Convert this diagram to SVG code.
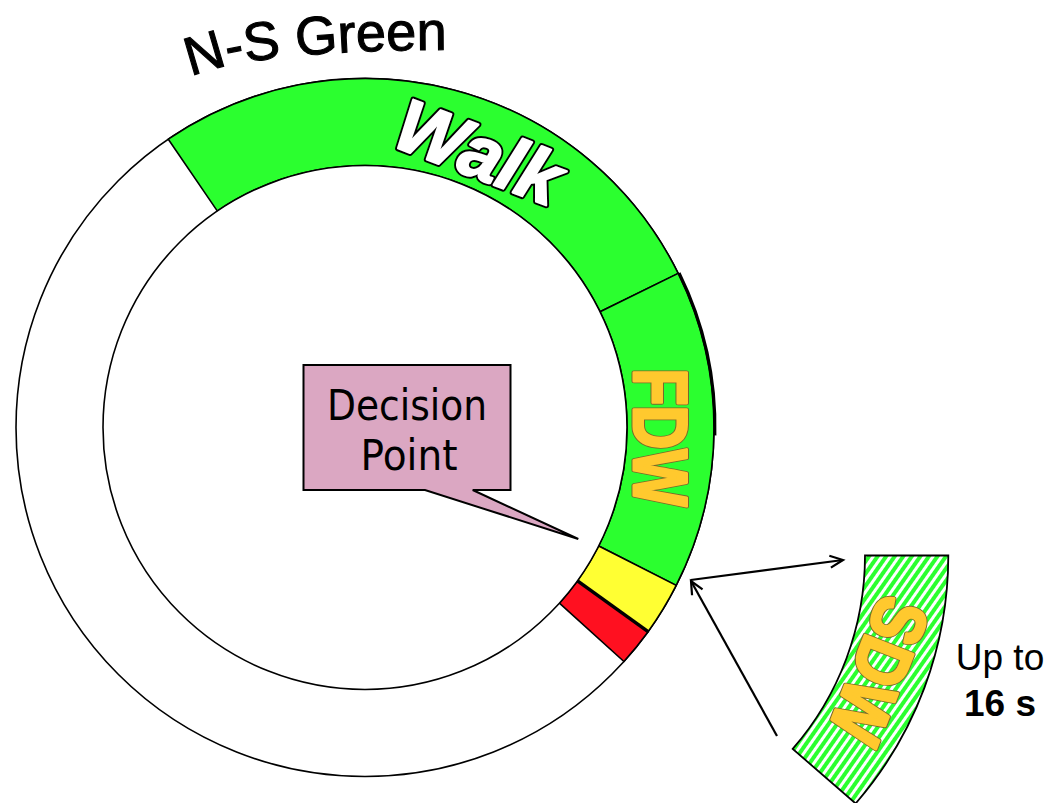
<svg xmlns="http://www.w3.org/2000/svg" width="1061" height="803" viewBox="0 0 1061 803">
  <style>
    .seg { stroke: #000; stroke-width: 1.6; stroke-linejoin: round; }
    .ring { fill: #fff; stroke: #000; stroke-width: 1.6; }
    .green { fill: #2BFF2F; }
    .sans { font-family: "Liberation Sans", Arial, Helvetica, sans-serif; }
    .tahoma { font-family: "DejaVu Sans", Verdana, sans-serif; }
    .lblB { font-family: "Liberation Sans", Arial, Helvetica, sans-serif; font-weight: bold; }
    .outl { fill: none; stroke: #7A6A2A; stroke-width: 5; stroke-linejoin: round; }
    .body { fill: #FFC92E; stroke: #FFC92E; stroke-width: 3; stroke-linejoin: round; }
    .wOut { fill: none; stroke: #000; stroke-width: 6; stroke-linejoin: round; }
    .wBody { fill: #fff; stroke: #fff; stroke-width: 2.2; stroke-linejoin: round; }
    .conn { stroke: #000; stroke-width: 2.2; fill: none; marker-end: url(#ah); }
  </style>
  <defs>
    <marker id="ah" markerWidth="18" markerHeight="16" refX="15" refY="8" orient="auto" markerUnits="userSpaceOnUse">
      <path d="M2,2 L15,8 L2,14" fill="none" stroke="#000" stroke-width="2.2"/>
    </marker>
    <pattern id="stripes" width="7" height="7" patternUnits="userSpaceOnUse" patternTransform="rotate(35)">
      <rect x="0" y="0" width="7" height="7" fill="#fff"/>
      <rect x="0" y="0" width="4" height="7" fill="#2BFF2F"/>
    </pattern>
    <path id="nsArc" d="M 191,77 C 245,52 400,49 470,50"/>
    <text id="walkT" class="lblB" transform="translate(470,176) rotate(21)" text-anchor="middle" font-style="italic" font-size="74">Walk</text>
    <text id="fdwT" class="lblB" transform="translate(633.5,437.5) rotate(90)" text-anchor="middle" font-size="76" textLength="138" lengthAdjust="spacingAndGlyphs">FDW</text>
    <text id="sdwT" class="lblB" transform="translate(855,661) rotate(111.5)" text-anchor="middle" font-size="75" textLength="149" lengthAdjust="spacingAndGlyphs">SDW</text>
  </defs>

  <g id="ring">
    <circle class="ring" cx="365" cy="427.5" r="349"/>
    <path id="walk-seg" class="seg green" d="M 168.3,139.2 A 349 349 0 0 1 678.2,273.4 L 600.1,311.8 A 262 262 0 0 0 217.4,211.1 Z"/>
    <path id="fdw-seg" class="seg green" d="M 678.2,273.4 A 349 349 0 0 1 676.2,585.4 L 598.7,546.0 A 262 262 0 0 0 600.1,311.8 Z"/>
    <path id="yellow-seg" class="seg" fill="#FFFF33" d="M 676.2,585.4 A 349 349 0 0 1 648.1,631.7 L 577.5,580.8 A 262 262 0 0 0 598.7,546.0 Z"/>
    <path id="red-seg" class="seg" fill="#FF1020" d="M 648.1,631.7 A 349 349 0 0 1 623.9,661.5 L 559.4,603.1 A 262 262 0 0 0 577.5,580.8 Z"/>
    <line x1="648.1" y1="631.7" x2="577.5" y2="580.8" stroke="#000" stroke-width="3.5"/>
    <path d="M 679.1,273 A 350 350 0 0 1 714.9,435.4" fill="none" stroke="#000" stroke-width="3"/>
    <circle class="ring" cx="365" cy="427.5" r="262"/>
  </g>

  <g id="title">
    <text class="sans" font-size="54" fill="#000" stroke="#000" stroke-width="1.1"><textPath href="#nsArc" startOffset="0">N-S Green</textPath></text>
  </g>

  <g id="walk-label">
    <use href="#walkT" class="wOut"/>
    <use href="#walkT" class="wBody"/>
  </g>

  <g id="fdw-label">
    <use href="#fdwT" class="outl"/>
    <use href="#fdwT" class="body"/>
  </g>

  <g id="decision-point">
    <path d="M303.5,365 H510.5 V490 H472.7 L578.3,539 L425,490 H303.5 Z" fill="#DBA7C2" stroke="#000" stroke-width="2"/>
    <text class="tahoma" x="407" y="420" text-anchor="middle" font-size="43" textLength="160" lengthAdjust="spacingAndGlyphs" fill="#000">Decision</text>
    <text class="tahoma" x="409" y="470" text-anchor="middle" font-size="43" textLength="97" lengthAdjust="spacingAndGlyphs" fill="#000">Point</text>
  </g>

  <g id="sdw">
    <path d="M 865,555.5 L 948.3,555.5 A 378 378 0 0 1 855.6,803.5 L 792.7,748.9 A 294.7 294.7 0 0 0 865,555.5 Z" fill="url(#stripes)" stroke="#000" stroke-width="1.8"/>
    <use href="#sdwT" class="outl"/>
    <use href="#sdwT" class="body"/>
  </g>

  <g id="duration-label" class="sans" font-size="37" fill="#000" text-anchor="middle">
    <text x="1000" y="670">Up to</text>
    <text x="1000" y="716" font-weight="bold">16 s</text>
  </g>

  <g id="connectors">
    <line class="conn" x1="690.7" y1="580" x2="843" y2="560"/>
    <line class="conn" x1="777" y1="736" x2="691" y2="581"/>
  </g>
</svg>
